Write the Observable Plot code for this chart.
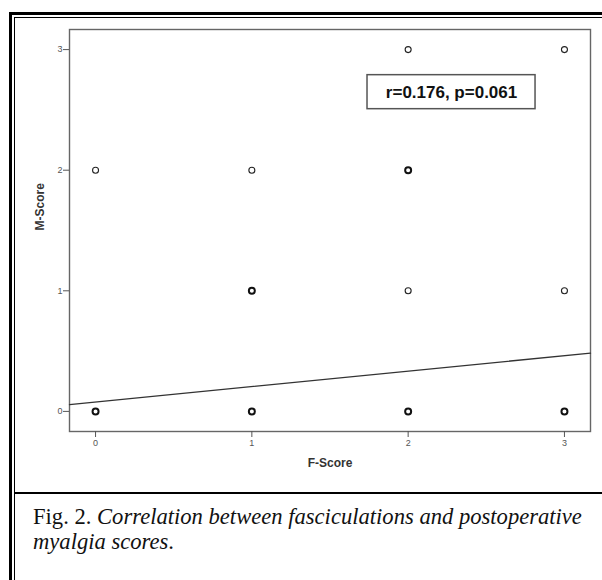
<!DOCTYPE html>
<html><head><meta charset="utf-8">
<script src="https://cdn.jsdelivr.net/npm/d3@7"></script>
<script src="https://cdn.jsdelivr.net/npm/@observablehq/plot@0.6"></script>
<style>
html,body{margin:0;padding:0;background:#fff;}
#fig{position:relative;width:602px;height:580px;overflow:hidden;background:#fff;}
.ln{position:absolute;background:#000;}
#chart{position:absolute;left:0;top:0;}
#caption{position:absolute;left:33px;top:504px;font-family:"Liberation Serif","Times New Roman",serif;font-size:22.6px;line-height:25px;color:#111;white-space:nowrap;}
#caption i{font-style:italic;}
</style></head><body>
<div id="fig">
 <div id="chart"></div>
 <div class="ln" style="left:9px;top:12px;width:3px;height:568px"></div>
 <div class="ln" style="left:9px;top:12px;width:593px;height:3px"></div>
 <div class="ln" style="left:14px;top:17px;width:1px;height:563px"></div>
 <div class="ln" style="left:14px;top:17px;width:588px;height:1px"></div>
 <div class="ln" style="left:14px;top:492px;width:588px;height:2px"></div>
 <div id="caption">Fig. 2. <i>Correlation between fasciculations and postoperative</i><br><i>myalgia scores</i>.</div>
</div>
<script>
// Data
const fScore = [0, 0, 1, 1, 1, 2, 2, 2, 2, 3, 3, 3];
const mScore = [0, 2, 0, 1, 2, 0, 1, 2, 3, 0, 1, 3];
const overlapping = [true, false, true, true, false, true, false, true, false, true, false, false];
const tickValues = [0, 1, 2, 3];
const fitIntercept = 0.078;
const fitSlope = 0.128;
const statsLabel = "r=0.176, p=0.061";
const xLabel = "F-Score";
const yLabel = "M-Score";

const points = fScore.map((f, i) => ({F: f, M: mScore[i], multi: overlapping[i]}));
const dom = [-1 / 6, 3 + 1 / 6];
const fitLine = dom.map(F => ({F, M: fitIntercept + fitSlope * F}));
const box = {x1: 1.74, x2: 2.815, y1: 2.506, y2: 2.788};
const boxLabel = [{cx: (box.x1 + box.x2) / 2, cy: (box.y1 + box.y2) / 2, label: statsLabel}];

const chart = Plot.plot({
  width: 602, height: 480,
  marginLeft: 69, marginRight: 12, marginTop: 29, marginBottom: 49,
  style: {fontFamily: "'Liberation Sans', Arial, sans-serif", background: "transparent"},
  x: {domain: dom},
  y: {domain: dom},
  marks: [
    Plot.frame({stroke: "#666", strokeWidth: 1.4}),
    Plot.axisX({ticks: tickValues, tickSize: 6, tickPadding: 2, fontSize: 9, color: "#555", tickFormat: d => String(d), label: null}),
    Plot.axisY({ticks: tickValues, tickSize: 6, tickPadding: 1, fontSize: 9, color: "#555", tickFormat: d => String(d), label: null}),
    Plot.text([xLabel], {text: d => d, frameAnchor: "bottom", dy: 35, fontSize: 12, fontWeight: "bold", fill: "#333"}),
    Plot.text([yLabel], {text: d => d, frameAnchor: "left", dx: -29, rotate: -90, fontSize: 12, fontWeight: "bold", fill: "#333"}),
    Plot.line(fitLine, {x: "F", y: "M", stroke: "#333", strokeWidth: 1.3}),
    Plot.dot(points, {filter: d => !d.multi, x: "F", y: "M", r: 3, stroke: "#222", fill: "white", strokeWidth: 1.1}),
    Plot.dot(points, {filter: d => d.multi, x: "F", y: "M", r: 3, stroke: "#111", fill: "white", strokeWidth: 2}),
    Plot.rect([box], {x1: "x1", x2: "x2", y1: "y1", y2: "y2", fill: "white", stroke: "#555", strokeWidth: 1.5}),
    Plot.text(boxLabel, {x: "cx", y: "cy", text: "label", fontSize: 17, fontWeight: "bold", fill: "#111"})
  ]
});
document.getElementById("chart").appendChild(chart);
</script>
</body></html>
